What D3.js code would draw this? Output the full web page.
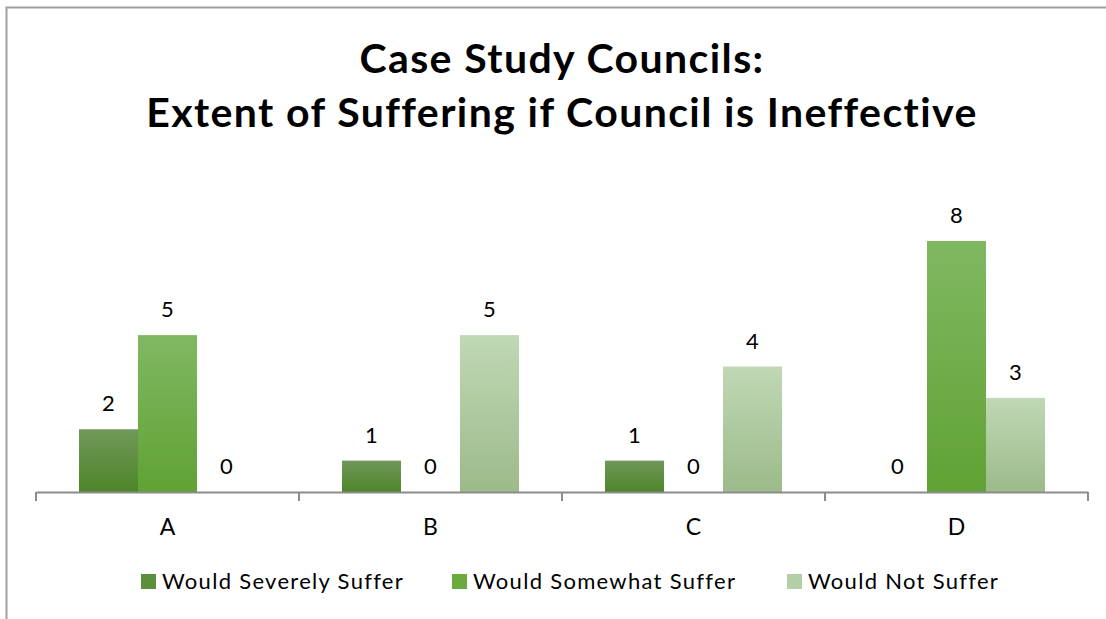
<!DOCTYPE html>
<html><head><meta charset="utf-8">
<script src="https://cdn.jsdelivr.net/npm/d3@7"></script>
<style>body{margin:0;background:#fff;} svg{display:block;font-family:Lato, "Open Sans", sans-serif;}</style>
</head><body>
<svg id="c" width="1106" height="619"></svg>
<script>
const categories = ["A","B","C","D"];
const seriesNames = ["Would Severely Suffer","Would Somewhat Suffer","Would Not Suffer"];
const severely = [2,1,1,0];
const somewhat = [5,0,0,8];
const notSuffer = [0,5,4,3];
const titleLines = ["Case Study Councils:","Extent of Suffering if Council is Ineffective"];

const seriesValues = [severely, somewhat, notSuffer];
const svg = d3.select("#c");
const defs = svg.append("defs");
const grads = [["#71985a","#4d8529"],["#80b862","#60a234"],["#c0d8b5","#9cba8a"]];
const legendCols = ["#5b8f3c","#6aaa3f","#b3cfa6"];
grads.forEach((g,i)=>{
  const lg = defs.append("linearGradient").attr("id","g"+i).attr("x1",0).attr("y1",0).attr("x2",0).attr("y2",1);
  lg.append("stop").attr("offset","0%").attr("stop-color",g[0]);
  lg.append("stop").attr("offset","100%").attr("stop-color",g[1]);
});

// border
svg.append("rect").attr("x",6.5).attr("y",7.5).attr("width",1200).attr("height",700)
  .attr("fill","none").attr("stroke","#a0a0a0").attr("stroke-width",2);

// title
svg.append("g").selectAll("text").data(titleLines).join("text")
  .attr("x",562).attr("y",(d,i)=>73+i*54).attr("text-anchor","middle")
  .attr("font-size",41).attr("letter-spacing",1.4).attr("font-weight","bold").attr("fill","#000").text(d=>d);

const x0 = d3.scaleBand().domain(categories).range([36,1088]);
const x1 = d3.scaleBand().domain(d3.range(3)).range([43, x0.bandwidth()-43]);
const y = d3.scaleLinear().domain([0,8]).range([492,241]);

const g = svg.append("g");
categories.forEach((c,ci)=>{
  seriesValues.forEach((vals,si)=>{
    const v = vals[ci];
    const bx = x0(c)+x1(si);
    if (v>0) g.append("rect").attr("x",bx).attr("y",y(v)).attr("width",x1.bandwidth()).attr("height",y(0)-y(v)).attr("fill","url(#g"+si+")");
    g.append("text").attr("x",bx+x1.bandwidth()/2).attr("y",y(v)-18).attr("text-anchor","middle")
      .attr("font-size",22).attr("fill","#000").text(v);
  });
});

// axis
const ax = svg.append("g").attr("transform","translate(0,492)")
  .call(d3.axisBottom(x0).tickSize(0).tickPadding(26));
ax.select(".domain").attr("stroke","#8c8c8c").attr("stroke-width",2);
ax.selectAll("text").attr("font-size",23).attr("font-family","Lato, sans-serif").attr("fill","#000").attr("dy",null).attr("y",43);
const bounds = [36, ...categories.map(c=>x0(c)+x0.bandwidth())];
svg.append("g").selectAll("line").data(bounds).join("line")
  .attr("x1",d=>d).attr("x2",d=>d).attr("y1",492).attr("y2",501)
  .attr("stroke","#8c8c8c").attr("stroke-width",2);

// legend
const legX = [141, 452, 787];
const lg = svg.append("g");
seriesNames.forEach((n,i)=>{
  lg.append("rect").attr("x",legX[i]).attr("y",574).attr("width",15).attr("height",15).attr("fill",legendCols[i]);
  lg.append("text").attr("x",legX[i]+21).attr("y",589).attr("font-size",22).attr("letter-spacing",1.3).attr("fill","#000").text(n);
});
</script>
</body></html>
